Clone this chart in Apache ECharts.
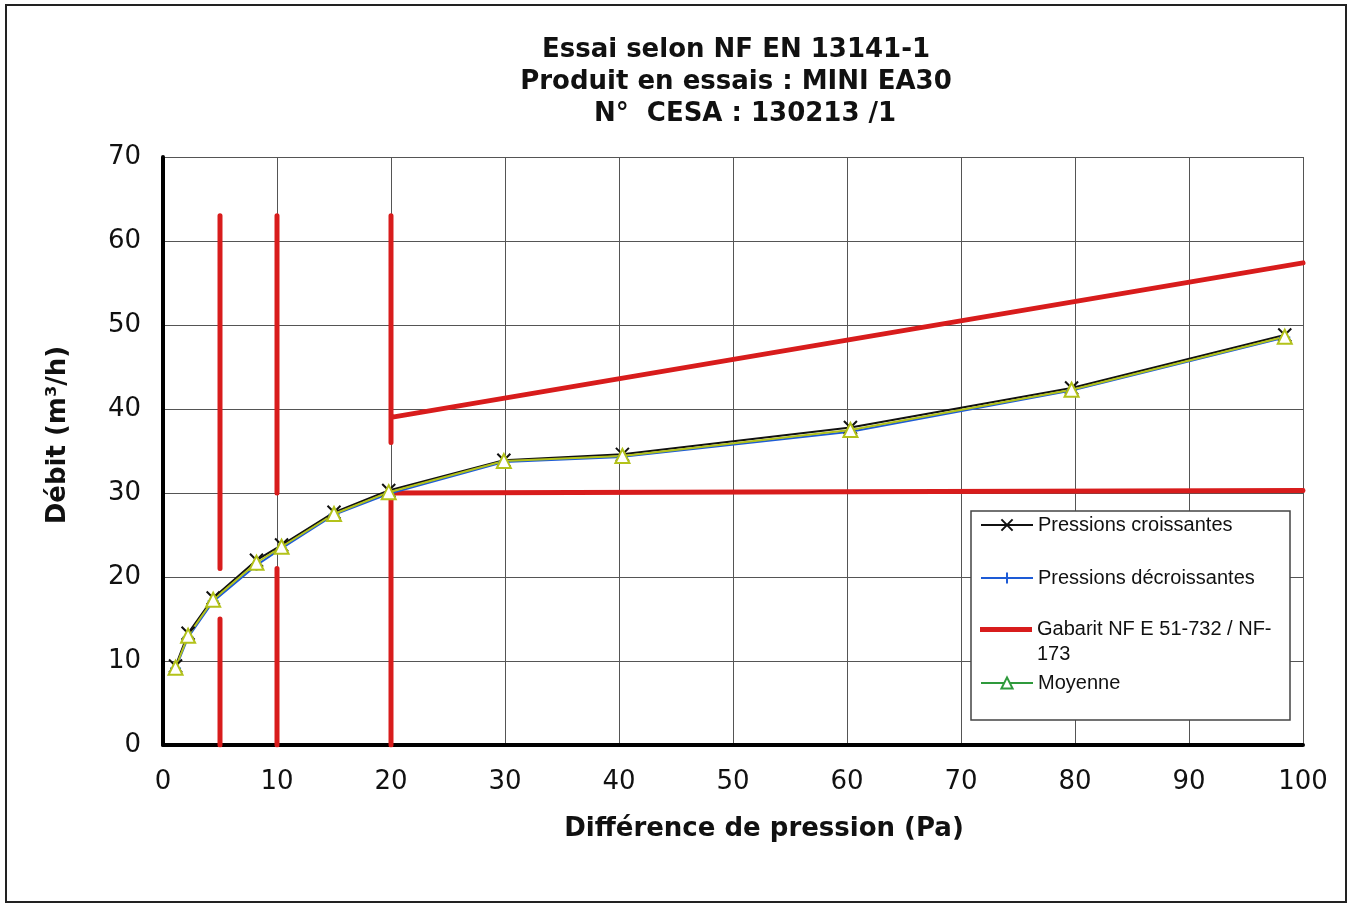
<!DOCTYPE html>
<html>
<head>
<meta charset="utf-8">
<title>Essai NF EN 13141-1 - MINI EA30</title>
<script src="https://cdn.jsdelivr.net/npm/echarts@6/dist/echarts.min.js"></script>
<style>
  html, body { margin: 0; padding: 0; background: #fff; }
  #chart { width: 1351px; height: 904px; }
</style>
</head>
<body>
<div id="chart"></div>
<script>
// données
const pressions = [1.1, 2.2, 4.4, 8.2, 10.4, 15.0, 19.8, 29.9, 40.3, 60.3, 79.7, 98.4];
const debitCroissant = [9.4, 13.3, 17.5, 22.0, 23.8, 27.7, 30.3, 33.9, 34.6, 37.8, 42.5, 48.8];
const debitDecroissant = [9.1, 12.8, 17.1, 21.4, 23.4, 27.4, 29.9, 33.7, 34.3, 37.3, 42.2, 48.5];
const debitMoyen = [9.2, 13.0, 17.3, 21.7, 23.6, 27.5, 30.1, 33.8, 34.4, 37.5, 42.3, 48.6];

// gabarit : segments [x, y]
const gabaritSegments = [
  [[5, 63], [5, 21]],
  [[5, 15], [5, 0]],
  [[10, 63], [10, 30]],
  [[10, 21], [10, 0]],
  [[20, 63], [20, 36]],
  [[20, 39], [100, 57.4]],
  [[20, 0], [20, 30], [100, 30.3]],
];

const xTicks = { min: 0, max: 100, interval: 10 };
const yTicks = { min: 0, max: 70, interval: 10 };

const NAME_UP = 'Pressions croissantes';
const NAME_DOWN = 'Pressions décroissantes';
const NAME_GAB = 'Gabarit NF E 51-732 / NF-\n173';
const NAME_AVG = 'Moyenne';

const zip = (xs, ys) => xs.map((x, i) => [x, ys[i]]);

const gabaritData = [];
gabaritSegments.forEach((seg, i) => {
  if (i > 0) gabaritData.push('-');
  seg.forEach((p) => gabaritData.push(p));
});

const axisFont = 'DejaVu Sans, Verdana, sans-serif';
const legendFont = 'Liberation Sans, Arial, sans-serif';
const legendText = { fontFamily: legendFont, fontSize: 20, color: '#111', lineHeight: 24 };

const chart = echarts.init(document.getElementById('chart'), null, { renderer: 'canvas' });

chart.setOption({
  backgroundColor: '#fff',
  animation: false,
  title: {
    text: 'Essai selon NF EN 13141-1\nProduit en essais : MINI EA30\n  N°  CESA : 130213 /1',
    left: 736,
    top: 34,
    padding: 0,
    textAlign: 'center',
    textStyle: {
      fontFamily: axisFont,
      fontWeight: 'bold',
      fontSize: 26,
      lineHeight: 32,
      color: '#111',
    },
  },
  grid: { left: 163, right: 48, top: 157, bottom: 159, containLabel: false },
  xAxis: {
    type: 'value',
    min: xTicks.min,
    max: xTicks.max,
    interval: xTicks.interval,
    name: 'Différence de pression (Pa)',
    nameLocation: 'middle',
    nameGap: 71,
    nameTextStyle: {
      fontFamily: axisFont, fontWeight: 'bold', fontSize: 26, color: '#111',
      padding: [0, 0, 0, 62],
    },
    axisLine: { show: true, lineStyle: { color: '#000', width: 4 } },
    axisTick: { show: false },
    axisLabel: { fontFamily: axisFont, fontSize: 26, color: '#111', margin: 24 },
    splitLine: { show: true, lineStyle: { color: '#555', width: 1 } },
  },
  yAxis: {
    type: 'value',
    min: yTicks.min,
    max: yTicks.max,
    interval: yTicks.interval,
    name: 'Débit (m³/h)',
    nameLocation: 'middle',
    nameGap: 92,
    nameTextStyle: {
      fontFamily: axisFont, fontWeight: 'bold', fontSize: 26, color: '#111',
      padding: [0, 0, 0, 32],
    },
    axisLine: { show: true, lineStyle: { color: '#000', width: 4 } },
    axisTick: { show: false },
    axisLabel: { fontFamily: axisFont, fontSize: 26, color: '#111', margin: 22 },
    splitLine: { show: true, lineStyle: { color: '#555', width: 1 } },
  },
  legend: [
    {
      data: [NAME_UP, NAME_DOWN],
      orient: 'vertical',
      left: 980,
      top: 513,
      padding: 0,
      itemGap: 29,
      itemWidth: 52,
      itemHeight: 14,
      textStyle: legendText,
      selectedMode: false,
      z: 10,
    },
    {
      // ligne vide en tête : le pictogramme s'aligne sur la 1re ligne du texte
      data: [{ name: NAME_GAB, icon: 'rect' }],
      formatter: (name) => '\n' + name,
      orient: 'vertical',
      left: 980,
      top: 592,
      padding: 0,
      itemWidth: 52,
      itemHeight: 5,
      textStyle: Object.assign({}, legendText, { lineHeight: 25 }),
      selectedMode: false,
      z: 10,
    },
    {
      data: [{
        name: NAME_AVG,
        itemStyle: { color: '#2f9a3c' },
        lineStyle: { color: '#2f9a3c' },
      }],
      orient: 'vertical',
      left: 980,
      top: 671,
      padding: 0,
      itemWidth: 52,
      itemHeight: 14,
      textStyle: legendText,
      selectedMode: false,
      z: 10,
    },
  ],
  graphic: [
    {
      type: 'rect',
      z: 3,
      shape: { x: 971, y: 511, width: 319, height: 209 },
      style: { fill: '#fff', stroke: '#444', lineWidth: 1.5 },
    },
    {
      type: 'rect',
      z: 20,
      silent: true,
      shape: { x: 6, y: 5, width: 1340, height: 897 },
      style: { fill: 'none', stroke: '#222', lineWidth: 2 },
    },
  ],
  series: [
    {
      name: NAME_GAB,
      type: 'line',
      data: gabaritData,
      showSymbol: false,
      symbol: 'none',
      color: '#d81c1c',
      lineStyle: { color: '#d81c1c', width: 5, cap: 'round', join: 'round' },
      connectNulls: false,
      z: 2,
    },
    {
      name: NAME_UP,
      type: 'line',
      data: zip(pressions, debitCroissant),
      color: '#111',
      symbol: 'path://M0,0 L10,10 M10,0 L0,10',
      symbolSize: 13,
      itemStyle: { color: '#111', borderColor: '#111', borderWidth: 2 },
      lineStyle: { color: '#111', width: 2 },
      z: 3,
    },
    {
      name: NAME_DOWN,
      type: 'line',
      data: zip(pressions, debitDecroissant),
      color: '#1d5bd6',
      symbol: 'path://M5,0 L5,10 M0,5 L10,5',
      symbolSize: 11,
      itemStyle: { color: '#1d5bd6', borderColor: '#1d5bd6', borderWidth: 2 },
      lineStyle: { color: '#1d5bd6', width: 2 },
      z: 3,
    },
    {
      name: NAME_AVG,
      type: 'line',
      data: zip(pressions, debitMoyen),
      color: '#b3c21a',
      symbol: 'emptyTriangle',
      symbolSize: 14,
      itemStyle: { color: '#b3c21a', borderWidth: 2 },
      lineStyle: { color: '#b3c21a', width: 2 },
      z: 3,
    },
  ],
});

window.addEventListener('resize', () => chart.resize());
</script>
</body>
</html>
